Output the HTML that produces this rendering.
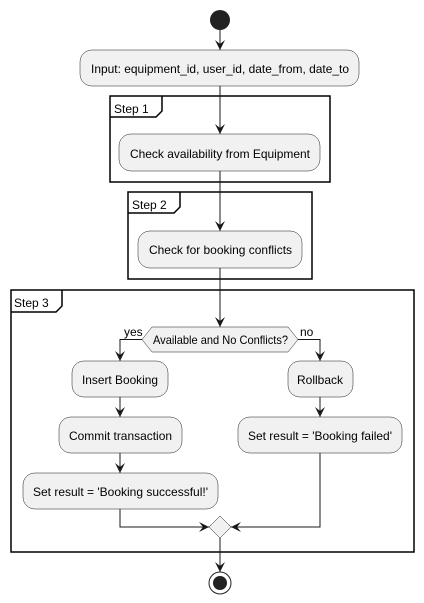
<!DOCTYPE html>
<html><head><style>body{margin:0;background:#fff}svg{display:block}text{font-family:"Liberation Sans",sans-serif;font-size:12px;fill:#000}</style></head><body>
<svg width="424" height="603" viewBox="0 0 424 603">
<defs>
<marker id="a" markerWidth="12" markerHeight="12" refX="10" refY="5" orient="auto" markerUnits="userSpaceOnUse"><path d="M0,0 L10,5 L0,10 L4,5 Z" fill="#181818"/></marker>
</defs>
<g fill="none" stroke="#000" stroke-width="1.5">
<rect x="110" y="96" width="220" height="86"/>
<path d="M110,117 H156 L162,111 V96"/>
<rect x="128" y="192" width="184" height="87"/>
<path d="M128,213 H174 L180,207 V192"/>
<rect x="11" y="290" width="403" height="262"/>
<path d="M11,312 H56 L62,306 V290"/>
</g>
<g stroke="#181818" stroke-width="1" fill="none">
<line x1="220" y1="30" x2="220" y2="50" marker-end="url(#a)"/>
<line x1="220" y1="86" x2="220" y2="134" marker-end="url(#a)"/>
<line x1="220" y1="171" x2="220" y2="231" marker-end="url(#a)"/>
<line x1="220" y1="268" x2="220" y2="327" marker-end="url(#a)"/>
<polyline points="142,339.5 120,339.5 120,361" marker-end="url(#a)"/>
<polyline points="298,339.5 320,339.5 320,361" marker-end="url(#a)"/>
<line x1="120" y1="397" x2="120" y2="417" marker-end="url(#a)"/>
<line x1="120" y1="453" x2="120" y2="473" marker-end="url(#a)"/>
<line x1="320" y1="397" x2="320" y2="417" marker-end="url(#a)"/>
<polyline points="120,509 120,527 209,527" marker-end="url(#a)"/>
<polyline points="320,453 320,527 231,527" marker-end="url(#a)"/>
<line x1="220" y1="538" x2="220" y2="572" marker-end="url(#a)"/>
</g>
<circle cx="220" cy="20" r="10" fill="#222"/>
<g fill="#f1f1f1" stroke="#181818" stroke-width="0.5">
<rect x="80" y="50" width="279" height="36" rx="12"/>
<rect x="119" y="134" width="201" height="37" rx="12"/>
<rect x="138" y="231" width="164" height="37" rx="12"/>
<polygon points="142,339.5 152,327 288,327 298,339.5 288,352 152,352"/>
<rect x="72" y="361" width="96" height="36" rx="12"/>
<rect x="59" y="417" width="123" height="36" rx="12"/>
<rect x="23" y="473" width="195" height="36" rx="12"/>
<rect x="288" y="361" width="65" height="36" rx="12"/>
<rect x="238" y="417" width="164" height="36" rx="12"/>
<polygon points="220,516 231,527 220,538 209,527"/>
</g>
<circle cx="220" cy="583" r="11" fill="none" stroke="#222" stroke-width="1"/>
<circle cx="220" cy="583" r="7" fill="#222"/>
<text x="91" y="73" textLength="258" lengthAdjust="spacingAndGlyphs">Input: equipment_id, user_id, date_from, date_to</text>
<text x="114" y="113" font-size="14">Step 1</text>
<text x="130" y="158" textLength="180" lengthAdjust="spacingAndGlyphs">Check availability from Equipment</text>
<text x="132" y="209" font-size="14">Step 2</text>
<text x="149" y="254" textLength="143" lengthAdjust="spacingAndGlyphs">Check for booking conflicts</text>
<text x="14" y="307" font-size="14">Step 3</text>
<text x="153" y="344" textLength="135" lengthAdjust="spacingAndGlyphs">Available and No Conflicts?</text>
<text x="124" y="336" font-size="11">yes</text>
<text x="300" y="336" font-size="11">no</text>
<text x="82" y="384" textLength="76" lengthAdjust="spacingAndGlyphs">Insert Booking</text>
<text x="69" y="440" textLength="103" lengthAdjust="spacingAndGlyphs">Commit transaction</text>
<text x="33" y="496" textLength="175" lengthAdjust="spacingAndGlyphs">Set result = 'Booking successful!'</text>
<text x="297" y="384" textLength="46" lengthAdjust="spacingAndGlyphs">Rollback</text>
<text x="248" y="440" textLength="144" lengthAdjust="spacingAndGlyphs">Set result = 'Booking failed'</text>
</svg>
</body></html>
